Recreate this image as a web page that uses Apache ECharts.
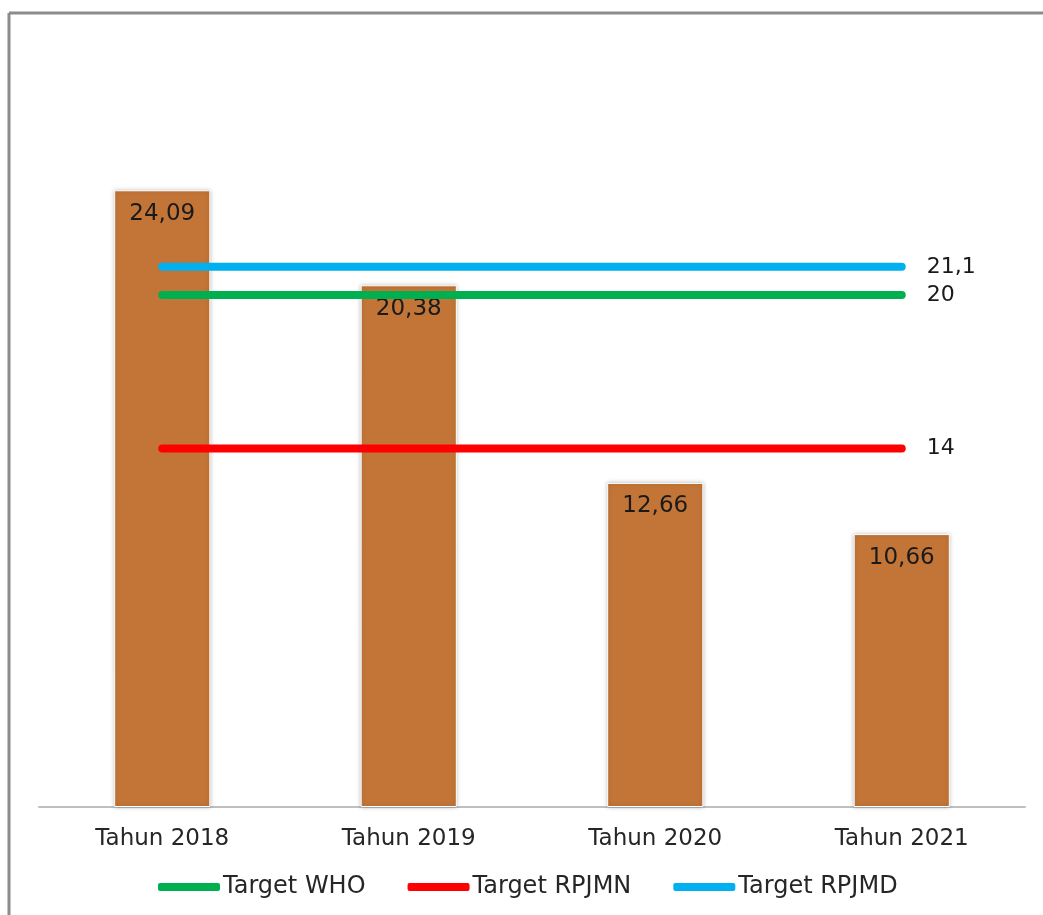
<!DOCTYPE html>
<html>
<head>
<meta charset="utf-8">
<script src="https://cdn.jsdelivr.net/npm/echarts@6/dist/echarts.min.js"></script>
<style>
html,body{margin:0;padding:0;background:#fff;}
#chart{width:1043px;height:915px;}
</style>
</head>
<body>
<div id="chart"></div>
<script>
const categories = ['Tahun 2018', 'Tahun 2019', 'Tahun 2020', 'Tahun 2021'];
const barValues = [24.09, 20.38, 12.66, 10.66];
const targetWHO = [20, 20, 20, 20];
const targetRPJMN = [14, 14, 14, 14];
const targetRPJMD = [21.1, 21.1, 21.1, 21.1];

const fontFam = '"DejaVu Sans", Verdana, sans-serif';
const fmt = v => String(v).replace('.', ',');

function targetLine(name, data, color) {
  return {
    name: name,
    type: 'line',
    data: data,
    z: 5,
    symbol: 'none',
    lineStyle: { color: color, width: 8, cap: 'round' },
    itemStyle: { color: color },
    endLabel: {
      show: true,
      formatter: p => fmt(p.value),
      color: '#1a1a1a',
      fontSize: 22,
      fontFamily: fontFam,
      distance: 25
    }
  };
}

const chart = echarts.init(document.getElementById('chart'));
chart.setOption({
  animation: false,
  backgroundColor: '#fff',
  grid: { left: 39, right: 18, top: 39, bottom: 108, containLabel: false },
  xAxis: {
    type: 'category',
    data: categories,
    axisLine: { lineStyle: { color: '#bfbfbf', width: 2 } },
    axisTick: { show: false },
    axisLabel: { color: '#262626', fontSize: 23, fontFamily: fontFam, margin: 21 }
  },
  yAxis: {
    type: 'value',
    min: 0, max: 30, interval: 5,
    show: false,
    splitLine: { show: false }
  },
  legend: {
    bottom: 11,
    left: 153,
    itemWidth: 62,
    itemHeight: 8,
    itemGap: 42,
    icon: 'roundRect',
    data: ['Target WHO', 'Target RPJMN', 'Target RPJMD'],
    textStyle: { color: '#262626', fontSize: 24, fontFamily: fontFam, padding: [0, 0, 0, -2] }
  },
  graphic: [
    { type: 'line', shape: { x1: 9, y1: 13, x2: 1043, y2: 13 }, style: { stroke: '#8c8c8c', lineWidth: 3 }, z: 100 },
    { type: 'line', shape: { x1: 9, y1: 13, x2: 9, y2: 915 }, style: { stroke: '#8c8c8c', lineWidth: 3 }, z: 100 }
  ],
  series: [
    {
      name: 'Prevalensi',
      type: 'bar',
      data: barValues,
      barWidth: '39%',
      z: 2,
      itemStyle: {
        color: '#c37537',
        borderColor: '#ffffff',
        borderWidth: 1,
        shadowColor: 'rgba(0,0,0,0.25)',
        shadowBlur: 4
      },
      label: {
        show: true,
        position: 'insideTop',
        distance: 12,
        formatter: p => fmt(p.value),
        color: '#1a1a1a',
        fontSize: 23,
        fontFamily: fontFam
      }
    },
    targetLine('Target WHO', targetWHO, '#00b050'),
    targetLine('Target RPJMN', targetRPJMN, '#ff0000'),
    targetLine('Target RPJMD', targetRPJMD, '#00b0f0')
  ]
});
</script>
</body>
</html>
